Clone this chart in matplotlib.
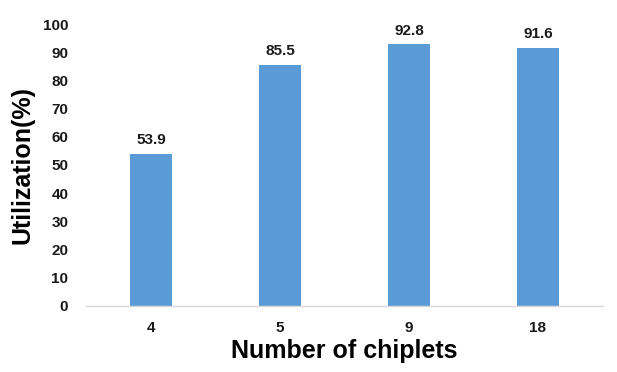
import matplotlib.pyplot as plt
import numpy as np

plt.rcParams['font.family'] = ['Liberation Sans', 'DejaVu Sans']

# chiplet counts and utilization
chiplets = ["4", "5", "9", "18"]
utilization = [53.9, 85.5, 92.8, 91.6]

fig = plt.figure(figsize=(6.17, 3.72), dpi=100)
ax = fig.add_axes([0.140, 0.178, 0.8365, 0.757])

x = np.arange(len(chiplets))
bars = ax.bar(x, utilization, width=0.32, color="#5B9BD5", zorder=2)

for b, v in zip(bars, utilization):
    ax.annotate(f"{v}", (b.get_x() + b.get_width() / 2, v),
                xytext=(0, 5), textcoords="offset points",
                ha="center", va="bottom", fontsize=11, fontweight="bold",
                color="#1a1a1a")

ax.set_xlim(-0.5, len(chiplets) - 0.5)
ax.set_ylim(0, 100)
ax.set_yticks(range(0, 101, 10))
ax.set_xticks(x)
ax.set_xticklabels(chiplets)

for s in ["top", "right", "left"]:
    ax.spines[s].set_visible(False)
ax.spines["bottom"].set_color("#d9d9d9")
ax.spines["bottom"].set_linewidth(1.0)

ax.tick_params(axis="both", length=0, labelsize=11, colors="#1a1a1a")
ax.tick_params(axis="y", pad=13)
ax.tick_params(axis="x", pad=11)
for lab in ax.get_xticklabels() + ax.get_yticklabels():
    lab.set_fontweight("bold")

ax.set_xlabel("Number of chiplets", fontsize=18, fontweight="bold", labelpad=3)
ax.set_ylabel("Utilization(%)", fontsize=18, fontweight="bold", labelpad=6)

fig.savefig("out.png", dpi=100)
